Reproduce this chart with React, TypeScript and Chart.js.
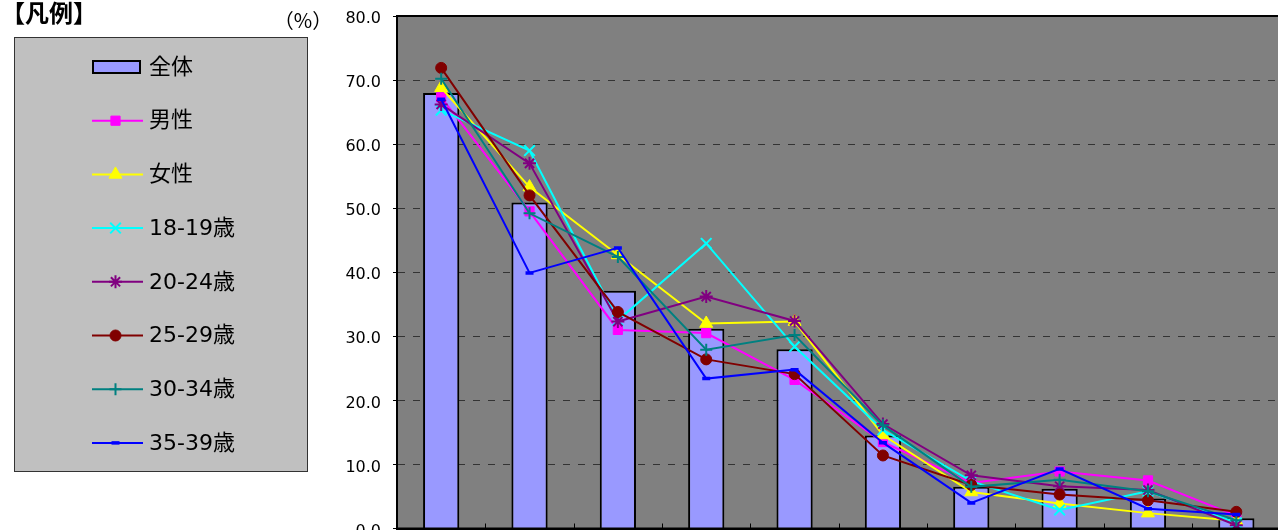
import React, { useEffect, useRef } from 'react';
import { Chart, registerables } from 'chart.js';
import { drawPoint } from 'chart.js/helpers';

Chart.register(...registerables);

const categories = ['項目1', '項目2', '項目3', '項目4', '項目5', '項目6', '項目7', '項目8', '項目9', '項目10'];
const seriesNames = ['全体', '男性', '女性', '18-19歳', '20-24歳', '25-29歳', '30-34歳', '35-39歳'];
const total = [68.0, 50.9, 37.1, 31.2, 28.0, 14.5, 6.5, 6.2, 4.7, 1.6];
const male = [67.3, 49.5, 31.0, 30.5, 23.2, 13.5, 7.1, 8.9, 7.5, 2.0];
const female = [68.8, 53.3, 42.7, 32.0, 32.3, 14.6, 5.7, 3.9, 2.4, 1.2];
const age18 = [65.3, 59.0, 32.5, 44.5, 28.4, 15.4, 7.4, 2.9, 5.8, 0.9];
const age20 = [66.2, 57.0, 32.3, 36.2, 32.4, 16.3, 8.3, 6.6, 6.0, 0.5];
const age25 = [71.9, 52.0, 33.8, 26.4, 24.1, 11.4, 6.8, 5.3, 4.4, 2.6];
const age30 = [70.2, 49.2, 42.4, 27.9, 30.2, 16.1, 6.5, 7.6, 5.8, 1.3];
const age35 = [67.0, 39.9, 43.8, 23.4, 24.8, 13.4, 4.0, 9.3, 3.1, 2.2];
const yTicks = [0, 10, 20, 30, 40, 50, 60, 70, 80];

const lineSeries = [
  { name: seriesNames[1], data: male, color: '#FF00FF', style: 'rect', radius: 6.5, pbw: 1 },
  { name: seriesNames[2], data: female, color: '#FFFF00', style: 'triangle', radius: 7.5, pbw: 1 },
  { name: seriesNames[3], data: age18, color: '#00FFFF', style: 'crossRot', radius: 7.5, pbw: 2 },
  { name: seriesNames[4], data: age20, color: '#800080', style: 'star', radius: 6.5, pbw: 2 },
  { name: seriesNames[5], data: age25, color: '#800000', style: 'circle', radius: 5.5, pbw: 1 },
  { name: seriesNames[6], data: age30, color: '#008080', style: 'cross', radius: 6, pbw: 2 },
  { name: seriesNames[7], data: age35, color: '#0000FF', style: 'line', radius: 4, pbw: 3.5 },
];

const FONT_LATIN = '"DejaVu Sans", "Noto Sans CJK JP", sans-serif';
const FONT_CJK = '"Noto Sans CJK JP", sans-serif';

const decorPlugin = {
  id: 'decor',
  beforeDraw(chart: any) {
    const { ctx, chartArea } = chart;
    ctx.save();
    ctx.fillStyle = '#808080';
    ctx.fillRect(chartArea.left, chartArea.top, chartArea.right - chartArea.left, chartArea.bottom - chartArea.top);
    ctx.restore();
  },
  afterDraw(chart: any) {
    const { ctx, chartArea } = chart;
    const xs = chart.scales.x;
    ctx.save();
    ctx.strokeStyle = '#000';
    ctx.lineWidth = 2;
    ctx.strokeRect(chartArea.left, chartArea.top, chartArea.right - chartArea.left, chartArea.bottom - chartArea.top);
    ctx.lineWidth = 1;
    for (let i = 0; i < categories.length - 1; i++) {
      const bx = Math.round((xs.getPixelForValue(i) + xs.getPixelForValue(i + 1)) / 2) + 0.5;
      ctx.beginPath();
      ctx.moveTo(bx, chartArea.bottom);
      ctx.lineTo(bx, chartArea.bottom - 5);
      ctx.stroke();
    }
    ctx.fillStyle = '#000';
    ctx.textBaseline = 'middle';
    ctx.textAlign = 'center';
    ctx.font = '20px ' + FONT_CJK;
    ctx.fillText('（%）', 303, 20);
    ctx.textAlign = 'left';
    ctx.font = 'bold 24px ' + FONT_CJK;
    ctx.fillText('【凡例】', 1, 13);
    ctx.fillStyle = '#C0C0C0';
    ctx.fillRect(14, 37, 294, 435);
    ctx.strokeStyle = '#333';
    ctx.lineWidth = 1;
    ctx.strokeRect(14.5, 37.5, 293, 434);
    const datasets = chart.data.datasets;
    for (let i = 0; i < datasets.length; i++) {
      const ds = datasets[i];
      const cy = 67 + i * 53.7;
      if (ds.type === 'bar') {
        ctx.fillStyle = ds.backgroundColor;
        ctx.fillRect(92, cy - 7, 49, 14);
        ctx.strokeStyle = '#000';
        ctx.lineWidth = 2;
        ctx.strokeRect(93, cy - 6, 47, 12);
      } else {
        ctx.strokeStyle = ds.borderColor;
        ctx.lineWidth = 2;
        ctx.beginPath();
        ctx.moveTo(92, cy);
        ctx.lineTo(143, cy);
        ctx.stroke();
        ctx.fillStyle = ds.pointBackgroundColor;
        ctx.strokeStyle = ds.pointBorderColor;
        ctx.lineWidth = ds.pointBorderWidth;
        drawPoint(ctx, { pointStyle: ds.pointStyle, radius: ds.pointRadius, rotation: 0, borderWidth: ds.pointBorderWidth }, 115.5, cy);
      }
      ctx.fillStyle = '#000';
      ctx.font = '22px ' + FONT_LATIN;
      ctx.textAlign = 'left';
      ctx.textBaseline = 'middle';
      ctx.fillText(ds.label, 149, cy + 1);
    }
    ctx.restore();
  },
};

export default function App() {
  const ref = useRef<HTMLCanvasElement | null>(null);
  useEffect(() => {
    if (!ref.current) return;
    const datasets: any[] = [
      {
        type: 'bar',
        label: seriesNames[0],
        data: total,
        backgroundColor: '#9999FF',
        borderColor: '#000000',
        borderWidth: 2,
        barPercentage: 0.41,
        categoryPercentage: 1,
        order: 20,
      },
      ...lineSeries.map((s, i) => ({
        type: 'line',
        label: s.name,
        data: s.data,
        borderColor: s.color,
        backgroundColor: s.color,
        borderWidth: 2,
        pointStyle: s.style,
        pointRadius: s.radius,
        pointBackgroundColor: s.color,
        pointBorderColor: s.color,
        pointBorderWidth: s.pbw,
        tension: 0,
        fill: false,
        order: 10 - i,
      })),
    ];
    const chart = new Chart(ref.current, {
      type: 'bar',
      data: { labels: categories, datasets },
      options: {
        responsive: false,
        animation: false,
        devicePixelRatio: 1,
        layout: { padding: { top: 16, bottom: 2, left: 0, right: 4 } },
        plugins: { legend: { display: false }, tooltip: { enabled: false }, title: { display: false } },
        scales: {
          x: {
            offset: true,
            grid: { display: false, drawTicks: false },
            ticks: { display: false },
            border: { display: true, color: '#000', width: 2 },
            afterFit: (s: any) => { s.height = 0; s.paddingLeft = 0; s.paddingRight = 0; },
          },
          y: {
            min: 0,
            max: 80,
            afterFit: (s: any) => { s.width = 397; s.paddingTop = 0; s.paddingBottom = 0; },
            afterBuildTicks: (s: any) => { s.ticks = yTicks.map((v) => ({ value: v })); },
            ticks: {
              color: '#000',
              padding: 12,
              labelOffset: 3,
              font: { family: FONT_LATIN, size: 16 },
              callback: (v: any) => Number(v).toFixed(1),
            },
            grid: {
              color: '#333333',
              lineWidth: 1,
              drawTicks: true,
              tickLength: 4,
              tickColor: '#000',
              tickBorderDash: [],
            },
            border: { display: true, color: '#000', width: 2, dash: [7, 8] },
          },
        },
      },
      plugins: [decorPlugin],
    });
    return () => chart.destroy();
  }, []);
  return (
    <div style={{ position: 'fixed', left: 0, top: 0, width: 1278, height: 530, overflow: 'hidden', background: '#fff' }}>
      <canvas ref={ref} width={1290} height={538} style={{ display: 'block' }} />
    </div>
  );
}
